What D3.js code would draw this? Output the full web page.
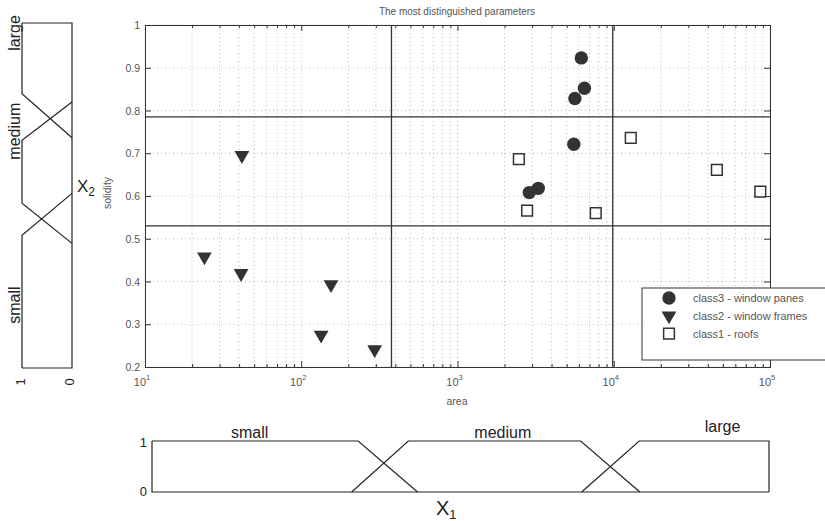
<!DOCTYPE html>
<html>
<head>
<meta charset="utf-8">
<script src="https://cdn.jsdelivr.net/npm/d3@7"></script>
<style>
  body { margin: 0; background: #fff; }
  svg { font-family: "Liberation Sans", Arial, sans-serif; }
</style>
</head>
<body>
<div id="chart"></div>
<script>
// scatter data: [area, solidity]
const class3 = [[6200, 0.923], [6490, 0.852], [5640, 0.828], [5550, 0.721], [3290, 0.618], [2880, 0.608]];
const class2 = [[41.7, 0.695], [24, 0.458], [41.2, 0.419], [155, 0.393], [134, 0.275], [295, 0.241]];
const class1 = [[12850, 0.736], [2470, 0.686], [45700, 0.661], [86700, 0.61], [2790, 0.566], [7670, 0.56]];

const legendLabels = ['class3 - window panes', 'class2 - window frames', 'class1 - roofs'];
const thresholdsArea = [378, 9850];
const thresholdsSolidity = [0.53, 0.785];
const yTicks = [0.2, 0.3, 0.4, 0.5, 0.6, 0.7, 0.8, 0.9, 1];
const yTickLabels = ['0.2', '0.3', '0.4', '0.5', '0.6', '0.7', '0.8', '0.9', '1'];
const xMajor = [10, 100, 1000, 10000, 100000];
const xExponents = ['1', '2', '3', '4', '5'];

// fuzzy sets on x1 (area): [area, membership]
const x1Sets = [
  { name: 'small', labelAt: 43, pts: [[10, 1], [217, 1], [527, 0]] },
  { name: 'medium', labelAt: 1880, pts: [[197, 0], [459, 1], [6010, 1], [14550, 0]] },
  { name: 'large', labelAt: 50000, pts: [[6100, 0], [14400, 1], [100000, 1], [100000, 0]] }
];
// fuzzy sets on x2 (solidity): [solidity, membership]
const x2Sets = [
  { name: 'small', labelAt: 0.346, pts: [[0.2, 1], [0.508, 1], [0.605, 0]] },
  { name: 'medium', labelAt: 0.749, pts: [[0.489, 0], [0.582, 1], [0.728, 1], [0.817, 0]] },
  { name: 'large', labelAt: 0.977, pts: [[0.734, 0], [0.836, 1], [1, 1]] }
];

const W = 825, H = 521;
const svg = d3.select('#chart').append('svg').attr('width', W).attr('height', H);

const x = d3.scaleLog().domain([10, 1e5]).range([145, 770]);
const y = d3.scaleLinear().domain([0.2, 1]).range([367, 25]);
const ink = '#333', txt = '#555';

// grid
const grid = svg.append('g').attr('stroke', '#aaa').attr('stroke-width', 0.8).attr('stroke-dasharray', '1,3');
grid.selectAll('line.v').data(x.ticks()).join('line')
  .attr('x1', d => x(d)).attr('x2', d => x(d)).attr('y1', y(1)).attr('y2', y(0.2));
grid.selectAll('line.h').data(yTicks).join('line')
  .attr('x1', x(10)).attr('x2', x(1e5)).attr('y1', d => y(d)).attr('y2', d => y(d));

// axes (ticks inside, matlab style)
const minor = x.ticks().filter(d => !xMajor.includes(d));
const noLabel = () => '';
svg.append('g').attr('transform', `translate(0,${y(0.2)})`)
  .call(d3.axisBottom(x).tickValues(xMajor).tickSize(-6).tickFormat(noLabel));
svg.append('g').attr('transform', `translate(0,${y(0.2)})`)
  .call(d3.axisBottom(x).tickValues(minor).tickSize(-3).tickFormat(noLabel));
svg.append('g').attr('transform', `translate(0,${y(1)})`)
  .call(d3.axisTop(x).tickValues(xMajor).tickSize(-6).tickFormat(noLabel));
svg.append('g').attr('transform', `translate(0,${y(1)})`)
  .call(d3.axisTop(x).tickValues(minor).tickSize(-3).tickFormat(noLabel));
svg.append('g').attr('transform', `translate(${x(10)},0)`)
  .call(d3.axisLeft(y).tickValues(yTicks).tickSize(-6).tickFormat(noLabel));
svg.append('g').attr('transform', `translate(${x(1e5)},0)`)
  .call(d3.axisRight(y).tickValues(yTicks).tickSize(-6).tickFormat(noLabel));
svg.selectAll('.domain').attr('stroke', ink);
svg.selectAll('.tick line').attr('stroke', ink);

// tick labels
svg.append('g').selectAll('text').data(yTicks).join('text')
  .attr('x', x(10) - 5).attr('y', d => y(d) + 4)
  .attr('text-anchor', 'end').attr('font-size', 10.5).attr('fill', txt)
  .text((d, i) => yTickLabels[i]);
const xl = svg.append('g').selectAll('text').data(xMajor).join('text')
  .attr('x', d => x(d) - 3).attr('y', 386)
  .attr('text-anchor', 'middle').attr('font-size', 11).attr('fill', txt);
xl.append('tspan').text('10');
xl.append('tspan').attr('dy', -6).attr('font-size', 7.5).text((d, i) => xExponents[i]);

svg.append('text').attr('x', 457).attr('y', 405).attr('text-anchor', 'middle')
  .attr('font-size', 10.5).attr('fill', txt).text('area');
svg.append('text').attr('transform', 'translate(111,193) rotate(-90)').attr('text-anchor', 'middle')
  .attr('font-size', 10.5).attr('fill', txt).text('solidity');
svg.append('text').attr('x', 457).attr('y', 15).attr('text-anchor', 'middle')
  .attr('font-size', 10).attr('fill', txt).text('The most distinguished parameters');

// threshold lines
svg.append('g').selectAll('line').data(thresholdsArea).join('line')
  .attr('x1', d => x(d)).attr('x2', d => x(d)).attr('y1', y(1)).attr('y2', y(0.2))
  .attr('stroke', ink).attr('stroke-width', 1.3);
svg.append('g').selectAll('line').data(thresholdsSolidity).join('line')
  .attr('x1', x(10)).attr('x2', x(1e5)).attr('y1', d => y(d)).attr('y2', d => y(d))
  .attr('stroke', ink).attr('stroke-width', 1.3);

// markers
const circleSym = d3.symbol().type(d3.symbolCircle).size(140);
const triSym = d3.symbol().type(d3.symbolTriangle).size(95);
const squareSym = d3.symbol().type(d3.symbolSquare).size(115);
const pts = svg.append('g');
pts.selectAll('path.c3').data(class3).join('path')
  .attr('transform', d => `translate(${x(d[0])},${y(d[1])})`)
  .attr('d', circleSym).attr('fill', ink);
pts.selectAll('path.c2').data(class2).join('path')
  .attr('transform', d => `translate(${x(d[0])},${y(d[1])}) rotate(180)`)
  .attr('d', triSym).attr('fill', ink);
pts.selectAll('path.c1').data(class1).join('path')
  .attr('transform', d => `translate(${x(d[0])},${y(d[1])})`)
  .attr('d', squareSym).attr('fill', 'none').attr('stroke', ink).attr('stroke-width', 1.5);

// legend
const lg = svg.append('g').attr('transform', 'translate(642,288)');
lg.append('rect').attr('width', 185).attr('height', 72).attr('fill', '#fff')
  .attr('stroke', ink).attr('stroke-width', 1);
const lsyms = [
  { sym: circleSym, fill: ink, stroke: 'none', rot: 0 },
  { sym: triSym, fill: ink, stroke: 'none', rot: 180 },
  { sym: squareSym, fill: 'none', stroke: ink, rot: 0 }
];
legendLabels.forEach((label, i) => {
  const row = lg.append('g').attr('transform', `translate(0,${10 + i * 17.8})`);
  row.append('path').attr('d', lsyms[i].sym).attr('fill', lsyms[i].fill)
    .attr('stroke', lsyms[i].stroke).attr('stroke-width', 1.5)
    .attr('transform', `translate(27,0) rotate(${lsyms[i].rot})`);
  row.append('text').attr('x', 51).attr('y', 4).attr('font-size', 11).attr('fill', txt).text(label);
});

// bottom panel: fuzzy sets of x1
const bx = d3.scaleLog().domain([10, 1e5]).range([152, 769]);
const bmu = d3.scaleLinear().domain([0, 1]).range([492, 441]);
const bottom = svg.append('g').attr('fill', 'none').attr('stroke', '#222').attr('stroke-width', 1.2);
const bLine = d3.line().x(d => bx(d[0])).y(d => bmu(d[1]));
bottom.append('path').attr('d', bLine([[10, 1], [10, 0], [1e5, 0]]));
bottom.selectAll('path.set').data(x1Sets).join('path').attr('class', 'set').attr('d', d => bLine(d.pts));
svg.append('g').selectAll('text').data(x1Sets).join('text')
  .attr('x', d => bx(d.labelAt)).attr('y', d => d.name === 'large' ? 432 : 438)
  .attr('text-anchor', 'middle').attr('font-size', 16).attr('fill', '#222').text(d => d.name);
svg.append('text').attr('x', 147).attr('y', 447).attr('text-anchor', 'end').attr('font-size', 13).attr('fill', '#222').text('1');
svg.append('text').attr('x', 147).attr('y', 496).attr('text-anchor', 'end').attr('font-size', 13).attr('fill', '#222').text('0');
const x1t = svg.append('text').attr('x', 436).attr('y', 515).attr('font-size', 20).attr('fill', '#222');
x1t.append('tspan').text('X');
x1t.append('tspan').attr('dy', 4).attr('font-size', 13).text('1');

// left panel: fuzzy sets of x2
const ly = d3.scaleLinear().domain([0.2, 1]).range([368, 23]);
const lmu = d3.scaleLinear().domain([0, 1]).range([72, 22]);
const lLine = d3.line().x(d => lmu(d[1])).y(d => ly(d[0]));
const left = svg.append('g').attr('fill', 'none').attr('stroke', '#222').attr('stroke-width', 1.2);
left.append('path').attr('d', lLine([[0.2, 1], [0.2, 0], [1, 0], [1, 1]]));
left.selectAll('path.set').data(x2Sets).join('path').attr('class', 'set').attr('d', d => lLine(d.pts));
svg.append('g').selectAll('text').data(x2Sets).join('text')
  .attr('transform', d => `translate(20,${ly(d.labelAt)}) rotate(-90)`)
  .attr('text-anchor', 'middle').attr('font-size', 16).attr('fill', '#222').text(d => d.name);
svg.append('text').attr('transform', 'translate(25,382) rotate(-90)').attr('text-anchor', 'middle')
  .attr('font-size', 13).attr('fill', '#222').text('1');
svg.append('text').attr('transform', 'translate(74,382) rotate(-90)').attr('text-anchor', 'middle')
  .attr('font-size', 13).attr('fill', '#222').text('0');
const x2t = svg.append('text').attr('x', 77).attr('y', 192).attr('font-size', 17).attr('fill', '#222');
x2t.append('tspan').text('X');
x2t.append('tspan').attr('dy', 4).attr('font-size', 12).text('2');
</script>
</body>
</html>
